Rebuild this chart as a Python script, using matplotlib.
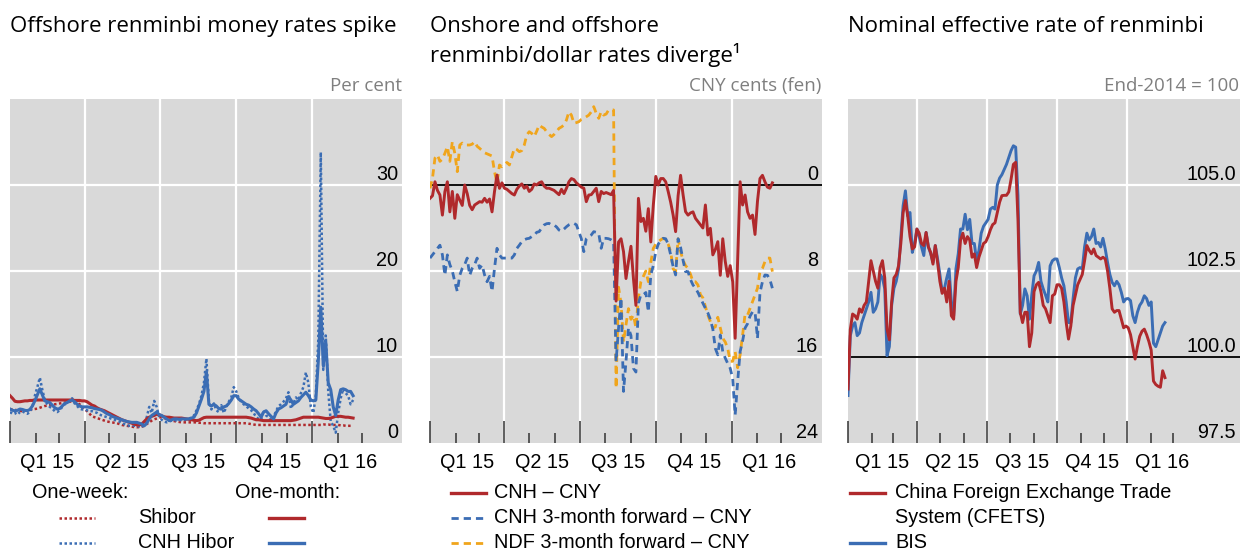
import numpy as np
import pandas as pd
import matplotlib
matplotlib.use("Agg")
import matplotlib.pyplot as plt
from matplotlib.lines import Line2D
from matplotlib import transforms

# ---- data (one value every 3 days, 1 Jan 2015 - 19 Feb 2016) ----
dates = pd.date_range("2015-01-01", "2016-02-19", freq="3D")

shibor_1m = [
    5.5, 5.2, 4.85, 4.8, 4.8, 4.85, 4.9, 4.9, 4.95, 4.95, 5.0,
    5.0, 5.0, 5.0, 5.0, 5.0, 5.0, 5.0, 5.0, 5.0,
    5.0, 5.0, 5.0, 5.0, 5.0, 5.0, 4.95, 4.95, 4.95, 4.9,
    4.9, 4.8, 4.6, 4.4, 4.3, 4.1, 3.95, 3.85, 3.75, 3.6,
    3.45, 3.3, 3.15, 3.0, 2.85, 2.7, 2.6, 2.5, 2.4, 2.3, 2.2,
    2.1, 2.1, 2.2, 2.5, 2.8, 3.0, 3.1, 3.2, 3.35, 3.3,
    3.15, 3.05, 3.0, 3.0, 2.95, 2.9, 2.9, 2.9, 2.9, 2.85,
    2.8, 2.75, 2.7, 2.65, 2.6, 2.65, 2.8, 2.95, 3.0, 3.0,
    3.0, 3.0, 3.0, 3.0, 3.0, 3.0, 3.0, 3.0, 3.0, 3.0,
    3.0, 3.0, 3.0, 3.0, 3.0, 2.95, 2.9, 2.8, 2.7, 2.7, 2.65,
    2.6, 2.6, 2.6, 2.6, 2.6, 2.6, 2.6, 2.6, 2.6, 2.6,
    2.6, 2.6, 2.65, 2.7, 2.8, 2.9, 3.0, 3.0, 3.0, 3.0,
    3.0, 3.0, 3.0, 2.95, 2.9, 2.85, 2.85, 2.9, 3.0, 3.1,
    3.1, 3.1, 3.05, 3.0, 3.0, 2.95, 2.9,
]
shibor_1w = [
    3.95, 3.9, 3.85, 3.8, 3.75, 3.7, 3.75, 3.8, 3.85, 3.9, 3.95,
    4.0, 4.1, 4.2, 4.3, 4.35, 4.4, 4.45, 4.5, 4.55,
    4.6, 4.65, 4.7, 4.75, 4.8, 4.85, 4.8, 4.7, 4.5, 4.2,
    3.95, 3.7, 3.4, 3.1, 3.0, 2.9, 2.8, 2.7, 2.6, 2.5,
    2.45, 2.4, 2.35, 2.3, 2.2, 2.1, 2.05, 2.0, 1.95, 1.9, 1.85,
    1.83, 1.85, 1.9, 2.0, 2.2, 2.4, 2.6, 2.75, 2.85, 2.95,
    3.0, 2.9, 2.8, 2.7, 2.6, 2.55, 2.5, 2.45, 2.4, 2.4,
    2.4, 2.4, 2.4, 2.4, 2.4, 2.35, 2.35, 2.3, 2.3, 2.3,
    2.3, 2.3, 2.3, 2.3, 2.3, 2.3, 2.3, 2.3, 2.3, 2.3,
    2.3, 2.3, 2.3, 2.3, 2.3, 2.25, 2.2, 2.15, 2.1, 2.1, 2.1,
    2.1, 2.1, 2.1, 2.1, 2.1, 2.1, 2.1, 2.1, 2.1, 2.1,
    2.1, 2.1, 2.1, 2.1, 2.1, 2.1, 2.1, 2.1, 2.1, 2.1,
    2.1, 2.1, 2.1, 2.1, 2.15, 2.15, 2.15, 2.1, 2.1, 2.1,
    2.1, 2.05, 2.05, 2.0, 2.0, 2.0, 2.0,
]
hibor_1m = [
    3.95, 3.8, 3.75, 3.8, 3.95, 3.9, 3.8, 3.76, 3.9, 4.3, 4.9,
    5.6, 6.3, 5.6, 4.9, 4.8, 4.7, 4.4, 4.1, 3.95,
    4.0, 4.3, 4.6, 4.7, 4.9, 5.0, 4.8, 4.5, 4.3, 4.2,
    4.2, 4.2, 4.15, 4.1, 4.0, 3.95, 3.9, 3.8, 3.6, 3.4,
    3.3, 3.1, 3.0, 2.9, 2.8, 2.7, 2.6, 2.5, 2.45, 2.4, 2.4,
    2.4, 2.3, 2.2, 2.0, 2.3, 2.8, 3.2, 3.4, 3.6, 3.3,
    3.2, 3.0, 2.8, 2.6, 2.7, 2.8, 2.8, 2.75, 2.8, 2.8,
    2.8, 2.8, 2.9, 3.0, 3.5, 4.3, 5.1, 6.0, 8.3, 4.5,
    4.3, 4.5, 4.3, 4.0, 3.95, 4.2, 4.3, 4.6, 5.0, 5.5,
    5.5, 5.1, 4.9, 4.7, 4.5, 4.4, 4.2, 3.95, 3.75, 3.4, 3.0,
    3.6, 3.75, 3.4, 3.1, 2.8, 3.5, 3.95, 4.1, 4.3, 4.5,
    5.4, 5.0, 4.5, 4.7, 4.9, 5.3, 5.6, 5.9, 5.5, 5.0,
    4.9, 5.0, 9.5, 15.8, 9.0, 11.8, 7.0, 6.2, 4.2, 3.2,
    5.0, 6.2, 6.3, 6.2, 6.0, 6.0, 5.5,
]
hibor_1w = [
    3.6, 3.4, 3.5, 3.3, 3.6, 3.7, 3.5, 3.4, 3.6, 4.2, 5.5,
    6.5, 7.6, 6.2, 5.0, 4.5, 4.2, 4.0, 3.7, 3.6,
    3.8, 4.2, 4.5, 4.6, 4.9, 5.2, 4.6, 4.3, 4.0, 3.9,
    3.9, 3.8, 3.7, 3.7, 3.6, 3.5, 3.3, 3.2, 3.1, 3.0,
    2.9, 2.8, 2.7, 2.6, 2.5, 2.3, 2.2, 2.1, 2.0, 2.0, 2.0,
    2.0, 1.9, 1.8, 2.2, 3.0, 4.2, 3.5, 4.9, 4.2, 3.0,
    2.7, 2.5, 2.4, 2.5, 2.6, 2.7, 2.6, 2.6, 2.7, 2.7,
    2.7, 2.8, 3.0, 3.2, 3.8, 4.5, 5.5, 7.0, 9.8, 4.8,
    3.9, 4.6, 3.8, 3.6, 4.4, 3.5, 4.2, 4.8, 5.3, 6.5,
    6.0, 5.2, 4.8, 4.5, 4.3, 4.0, 3.8, 3.5, 3.0, 2.8, 2.7,
    3.8, 3.2, 3.0, 2.6, 3.0, 3.7, 4.3, 4.5, 4.8, 5.2,
    5.9, 4.0, 4.6, 5.3, 5.0, 5.8, 6.5, 8.2, 7.0, 4.2,
    3.5, 5.5, 12.0, 33.8, 8.5, 12.5, 6.0, 2.5, 2.0, 1.2,
    3.5, 5.2, 6.3, 5.8, 5.5, 4.5, 5.0,
]

cnh_cny = [
    1.24, 1.0, -0.3, 0.5, 0.93, 2.8, 0.62, -0.3, 2.5, 0.6, 3.1,
    0.9, 1.4, 1.9, 0.0, 0.8, 1.9, 2.3, 1.86, 1.7,
    1.55, 1.6, 1.24, 1.6, 1.3, 2.5, 0.6, -0.93, 0.31, -0.2,
    0.3, 0.4, 0.6, 0.8, 0.93, 0.4, 0.1, -0.1, 0.3, 0.1,
    0.6, 0.4, -0.1, 0.0, -0.2, -0.3, 0.1, 0.3, 0.3, 0.4, 0.5,
    0.7, 0.9, 0.4, 0.8, 0.3, -0.3, -0.6, -0.5, -0.2, 0.0,
    0.2, 0.3, 1.55, 0.93, 0.9, 0.6, 0.3, 1.55, 0.6, 0.8,
    0.7, 0.8, 0.9, 0.5, 10.8, 5.3, 5.0, 6.2, 8.7, 7.1,
    5.7, 8.7, 11.2, 1.24, 3.4, 3.1, 4.3, 2.2, 5.3, 1.9,
    -0.8, 0.0, -0.6, -0.6, -0.3, 0.6, 1.6, 2.8, 4.34, 1.0, -0.9,
    0.9, 2.48, 2.8, 2.6, 2.5, 3.1, 3.4, 3.7, 4.0, 1.86,
    4.65, 4.03, 6.5, 6.0, 5.27, 8.4, 5.0, 7.1, 8.5, 7.5,
    9.0, 14.26, 7.1, -0.3, 1.86, 0.93, 2.5, 3.1, 2.8, 4.6,
    1.5, -0.6, -0.9, -0.3, 0.2, 0.3, -0.2,
]
cnh_fwd = [
    6.8, 6.5, 6.2, 5.9, 5.6, 6.5, 8.4, 6.5, 7.4, 8.0, 9.0,
    9.9, 8.4, 7.75, 7.4, 6.8, 8.4, 7.75, 7.4, 6.8,
    7.75, 7.44, 8.37, 9.0, 8.5, 9.9, 7.75, 5.89, 6.5, 6.8,
    6.8, 6.8, 6.8, 6.8, 6.5, 5.9, 5.6, 5.27, 5.1, 5.0,
    4.96, 4.8, 4.7, 4.4, 4.34, 4.0, 3.72, 3.6, 3.57, 3.72, 3.72,
    3.9, 4.19, 4.3, 4.1, 3.88, 3.7, 3.6, 3.57, 3.7, 4.34,
    5.0, 6.2, 5.0, 4.8, 4.65, 4.34, 4.4, 4.5, 5.89, 4.96,
    4.96, 5.0, 5.1, 5.27, 16.4, 13.3, 10.5, 19.2, 16.4, 13.3,
    14.0, 17.05, 17.4, 11.0, 10.2, 10.2, 10.0, 11.8, 8.37, 7.5,
    6.2, 5.5, 5.2, 4.96, 5.0, 5.5, 6.5, 7.6, 8.37, 5.0, 5.8,
    7.0, 8.06, 8.06, 8.8, 9.3, 9.6, 10.0, 10.5, 11.0, 11.47,
    11.9, 12.5, 13.4, 15.2, 15.8, 13.95, 15.5, 16.1, 16.6, 17.05,
    18.0, 21.4, 18.3, 15.5, 14.5, 13.3, 12.9, 12.2, 11.8, 11.8,
    14.26, 10.0, 9.0, 8.37, 8.4, 8.8, 9.6,
]
ndf_fwd = [
    0.31, -0.62, -2.5, -2.8, -2.2, -2.4, -2.95, -3.57, -2.2, -4.03, -2.95,
    -1.24, -3.72, -3.9, -3.72, -3.72, -3.72, -3.8, -4.03, -3.6,
    -3.41, -3.2, -3.0, -2.9, -2.8, -2.7, -1.24, -0.2, -1.86, -1.7,
    -1.9, -2.1, -1.86, -2.64, -3.41, -3.3, -3.1, -3.2, -3.72, -4.65,
    -4.96, -4.8, -4.5, -5.0, -5.58, -5.4, -5.27, -4.96, -4.7, -4.5, -4.7,
    -4.96, -5.27, -5.4, -5.58, -6.05, -6.82, -6.5, -5.74, -5.8, -5.89,
    -6.1, -6.2, -6.35, -6.5, -6.8, -7.29, -6.67, -6.2, -6.82, -6.5,
    -6.6, -6.98, -7.0, -6.98, 18.9, 9.5, 11.0, 14.6, 13.0, 11.5,
    12.5, 12.1, 13.3, 10.5, 9.0, 8.5, 8.0, 9.0, 7.2, 5.9,
    5.5, 5.27, 5.1, 4.96, 5.1, 5.5, 6.2, 7.8, 8.06, 5.0, 6.2,
    7.0, 7.5, 7.75, 8.3, 9.0, 9.0, 9.3, 10.2, 10.5, 11.3,
    12.1, 12.7, 13.3, 13.2, 12.3, 13.3, 14.26, 14.6, 15.2, 16.4,
    16.4, 15.5, 17.0, 15.8, 13.95, 12.0, 12.1, 11.47, 10.85, 10.2,
    9.6, 8.06, 7.75, 7.13, 6.8, 6.8, 8.06,
]

cfets = [
    99.07, 100.8, 101.25, 101.2, 101.1, 101.4, 101.3, 101.5, 101.6, 102.2, 102.8,
    102.5, 102.2, 102.0, 102.6, 102.8, 102.3, 100.81, 100.5, 101.6,
    102.3, 102.4, 102.65, 103.3, 104.2, 104.55, 104.1, 103.5, 103.14, 103.2,
    103.72, 103.6, 103.3, 103.24, 103.62, 103.2, 103.04, 102.7, 103.24, 102.75,
    102.2, 101.85, 102.0, 101.6, 102.2, 101.2, 101.1, 102.2, 102.6, 103.4, 103.6,
    103.3, 103.5, 103.4, 102.9, 103.0, 102.6, 102.9, 103.1, 103.3, 103.35,
    103.5, 103.7, 103.85, 103.9, 104.2, 104.5, 104.69, 104.7, 104.7, 104.8,
    105.17, 105.6, 105.66, 104.0, 101.3, 101.0, 101.3, 101.3, 100.3, 100.7,
    101.9, 102.1, 102.17, 101.9, 101.5, 101.4, 101.2, 101.0, 101.78, 101.83,
    102.1, 102.1, 102.0, 101.6, 101.0, 100.52, 100.9, 101.5, 101.8, 102.1, 102.25,
    102.4, 102.8, 103.24, 103.1, 103.0, 103.14, 102.95, 102.9, 102.85, 102.9,
    102.85, 102.5, 102.0, 101.4, 101.3, 101.35, 101.35, 101.1, 100.85, 100.9,
    100.85, 100.65, 100.3, 99.94, 100.3, 100.6, 100.75, 100.81, 100.65, 100.45,
    100.2, 99.3, 99.2, 99.15, 99.12, 99.6, 99.4,
]
bis = [
    98.88, 100.62, 100.9, 101.0, 100.62, 100.7, 101.0, 101.2, 101.4, 101.6, 101.88,
    101.3, 101.4, 101.6, 102.4, 102.3, 101.98, 100.04, 100.3, 101.5,
    102.0, 102.2, 102.56, 103.5, 104.4, 104.83, 104.1, 104.2, 103.04, 103.3,
    103.72, 103.5, 103.2, 102.95, 103.62, 103.2, 103.0, 102.75, 103.24, 102.85,
    102.4, 101.9, 102.0, 102.3, 102.56, 101.6, 101.2, 102.56, 103.0, 103.72, 103.72,
    104.15, 103.7, 104.0, 103.3, 103.3, 102.8, 103.1, 103.6, 103.8, 103.9,
    104.0, 104.3, 104.35, 104.3, 105.0, 105.2, 105.3, 105.45, 105.6, 105.8,
    106.0, 106.14, 106.1, 104.69, 101.25, 101.5, 101.98, 101.78, 101.1, 101.8,
    102.36, 102.5, 102.75, 102.2, 101.98, 101.8, 101.6, 102.65, 102.8, 102.85,
    102.85, 102.6, 102.3, 102.07, 101.6, 101.0, 101.0, 101.7, 102.3, 102.56, 102.6,
    102.56, 103.2, 103.6, 103.4, 103.5, 103.72, 103.3, 103.33, 103.2, 103.45,
    103.14, 102.75, 102.4, 102.17, 102.07, 102.2, 102.1, 101.88, 101.6, 101.69,
    101.7, 101.64, 101.2, 101.0, 101.3, 101.5, 101.6, 101.78, 101.7, 101.5,
    101.6, 100.4, 100.3, 100.5, 100.7, 100.9, 101.0,
]

quarter_labels = ["Q1 15", "Q2 15", "Q3 15", "Q4 15", "Q1 16"]
quarter_starts = pd.to_datetime(["2015-01-01", "2015-04-01", "2015-07-01",
                                 "2015-10-01", "2016-01-01", "2016-04-01"])
month_ticks = pd.date_range("2015-01-01", "2016-03-01", freq="MS")

# ---- style ----
BG = "#d9d9d9"
RED = "#b0292c"
BLUE = "#3b6db4"
ORANGE = "#f0a51c"
TICKFONT = "Liberation Sans"
TITLEFONT = "Open Sans"
W, H = 1240, 554

fig = plt.figure(figsize=(W / 100, H / 100), dpi=100)


def px(x, y):
    return x / W, 1 - y / H


def make_axes(left, xmax, ylim, grid_y, ylabels, zero_line=None):
    ax = fig.add_axes([left / W, (H - 443) / H, 392 / W, 344 / H])
    ax.set_facecolor(BG)
    for s in ax.spines.values():
        s.set_visible(False)
    ax.set_xlim(pd.Timestamp("2015-01-01"), pd.Timestamp(xmax))
    ax.set_ylim(*ylim)
    for q in quarter_starts[1:5]:
        ax.axvline(q, color="white", lw=1.6, zorder=1)
    for v in grid_y:
        ax.axhline(v, color="white", lw=1.6, zorder=1)
    if zero_line is not None:
        ax.axhline(zero_line, color="black", lw=1.3, zorder=2)
    major = [d for d in month_ticks if d.month in (1, 4, 7, 10)]
    minor = [d for d in month_ticks if d.month not in (1, 4, 7, 10)]
    ax.set_xticks(major)
    ax.set_xticks(minor, minor=True)
    ax.tick_params(axis="x", which="major", direction="in", length=16, width=1.1,
                   color="#333333", labelbottom=False)
    ax.tick_params(axis="x", which="minor", direction="in", length=7, width=1.1,
                   color="#333333", labelbottom=False)
    ax.set_yticks([])
    # quarter labels
    btrans = transforms.blended_transform_factory(ax.transData, ax.transAxes)
    for i, lab in enumerate(quarter_labels):
        mid = quarter_starts[i] + (quarter_starts[i + 1] - quarter_starts[i]) / 2
        ax.text(mid, -0.058, lab, transform=btrans, ha="center", va="center",
                fontsize=14.3, family=TICKFONT)
    # y labels inside on the right
    ytrans = transforms.blended_transform_factory(ax.transAxes, ax.transData)
    off = transforms.ScaledTranslation(-4 / 100, 5 / 100, fig.dpi_scale_trans)
    for v, lab in ylabels:
        ax.text(1, v, lab, transform=ytrans + off, ha="right", va="baseline",
                fontsize=14.3, family=TICKFONT)
    return ax


# panel 1
ax1 = make_axes(10, "2016-04-18", (0, 40), [10, 20, 30],
                [(0, "0"), (10, "10"), (20, "20"), (30, "30")])
ax1.plot(dates, shibor_1w, color=RED, lw=1.8, ls=(0, (1, 1)), zorder=3)
ax1.plot(dates, hibor_1w, color=BLUE, lw=1.8, ls=(0, (1, 1)), zorder=3)
ax1.plot(dates, shibor_1m, color=RED, lw=2.2, zorder=4)
ax1.plot(dates, hibor_1m, color=BLUE, lw=2.2, zorder=4)

# panel 2
ax2 = make_axes(430, "2016-04-19", (24, -8), [8, 16],
                [(24, "24"), (16, "16"), (8, "8"), (0, "0")], zero_line=0)
ax2.plot(dates, ndf_fwd, color=ORANGE, lw=2.0, ls=(0, (2.6, 1.8)), zorder=3)
ax2.plot(dates, cnh_fwd, color=BLUE, lw=2.0, ls=(0, (2.6, 1.8)), zorder=3)
ax2.plot(dates, cnh_cny, color=RED, lw=2.1, zorder=4)

# panel 3
ax3 = make_axes(848, "2016-05-27", (97.5, 107.5), [102.5, 105.0],
                [(97.5, "97.5"), (100, "100.0"), (102.5, "102.5"), (105, "105.0")],
                zero_line=100)
ax3.plot(dates, bis, color=BLUE, lw=2.1, zorder=3)
ax3.plot(dates, cfets, color=RED, lw=2.1, zorder=4)

# titles and units
tkw = dict(family=TITLEFONT, fontsize=16, va="baseline")
fig.text(*px(10, 32), "Offshore renminbi money rates spike", **tkw)
fig.text(*px(430, 32), "Onshore and offshore", **tkw)
fig.text(*px(430, 62), "renminbi/dollar rates diverge\u00b9", **tkw)
fig.text(*px(848, 32), "Nominal effective rate of renminbi", **tkw)
ukw = dict(family=TITLEFONT, fontsize=13.5, va="baseline", ha="right", color="#7f7f7f")
fig.text(*px(402, 91), "Per cent", **ukw)
fig.text(*px(821, 91), "CNY cents (fen)", **ukw)
fig.text(*px(1239, 91), "End-2014 = 100", **ukw)

# legends
lkw = dict(family=TICKFONT, fontsize=14.3, va="baseline")


def handle(x0, x1, y, color, ls="-", lw=2.4):
    fig.add_artist(Line2D([x0 / W, x1 / W], [1 - y / H, 1 - y / H],
                          color=color, ls=ls, lw=lw))


rows = [493, 518, 543]
fig.text(*px(32, rows[0] + 5), "One-week:", **lkw)
fig.text(*px(235, rows[0] + 5), "One-month:", **lkw)
fig.text(*px(138, rows[1] + 5), "Shibor", **lkw)
fig.text(*px(138, rows[2] + 5), "CNH Hibor", **lkw)
handle(59, 95, rows[1], RED, ls=(0, (1, 1)), lw=1.8)
handle(59, 95, rows[2], BLUE, ls=(0, (1, 1)), lw=1.8)
handle(269, 304, rows[1], RED)
handle(269, 304, rows[2], BLUE)

handle(451, 486, rows[0], RED)
handle(451, 486, rows[1], BLUE, ls=(0, (2.6, 1.8)), lw=2.0)
handle(451, 486, rows[2], ORANGE, ls=(0, (2.6, 1.8)), lw=2.0)
fig.text(*px(494, rows[0] + 5), "CNH \u2013 CNY", **lkw)
fig.text(*px(494, rows[1] + 5), "CNH 3-month forward \u2013 CNY", **lkw)
fig.text(*px(494, rows[2] + 5), "NDF 3-month forward \u2013 CNY", **lkw)

handle(850, 885, rows[0], RED)
handle(850, 885, rows[2], BLUE)
fig.text(*px(895, rows[0] + 5), "China Foreign Exchange Trade", **lkw)
fig.text(*px(895, rows[1] + 5), "System (CFETS)", **lkw)
fig.text(*px(895, rows[2] + 5), "BIS", **lkw)

fig.savefig("out.png", dpi=100)
